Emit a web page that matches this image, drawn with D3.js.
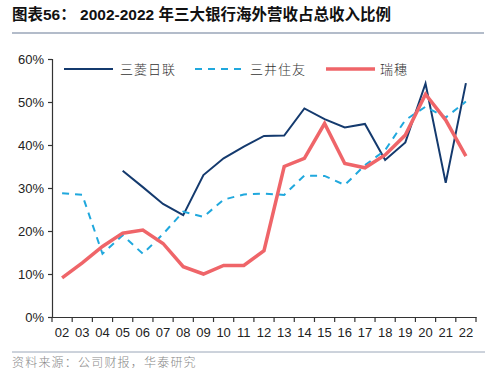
<!DOCTYPE html>
<html>
<head>
<meta charset="utf-8">
<script src="https://cdn.jsdelivr.net/npm/d3@7"></script>
<style>
  body { margin: 0; background: #fff; }
  svg { display: block; }
</style>
</head>
<body>
<svg id="chart" width="500" height="377"></svg>
<script>
// Years on the x axis
const years = ['02','03','04','05','06','07','08','09','10','11','12','13','14','15','16','17','18','19','20','21','22'];

// Overseas revenue share (%), null where no data
const mufg = [null, null, null, 34.0, 30.2, 26.3, 23.7, 33.0, 36.9, 39.6, 42.1, 42.2, 48.5, 46.0, 44.1, 44.9, 36.5, 40.6, 54.3, 31.2, 54.4];
const smbc = [28.8, 28.4, 14.7, 19.0, 14.7, 19.3, 24.5, 23.3, 27.3, 28.5, 28.7, 28.4, 32.9, 32.8, 30.7, 35.3, 38.8, 45.8, 48.9, 46.4, 50.1];
const mizuho = [9.1, 12.6, 16.4, 19.5, 20.2, 17.1, 11.7, 10.0, 12.0, 12.0, 15.4, 35.0, 36.9, 45.0, 35.7, 34.7, 37.7, 42.3, 51.8, 45.8, 37.4];

const yTicks = [0, 10, 20, 30, 40, 50, 60];

const series = [
  { name: '三菱日联', values: mufg, color: '#143a6e', width: 2, dash: null },
  { name: '三井住友', values: smbc, color: '#20a8dd', width: 2, dash: '7,6' },
  { name: '瑞穗', values: mizuho, color: '#ef6569', width: 3.5, dash: null }
];

const svg = d3.select('#chart');
const margin = { top: 59, right: 24, bottom: 60, left: 52 };
const width = +svg.attr('width');
const height = +svg.attr('height');

// Title
svg.append('text')
  .attr('x', 12)
  .attr('y', 20)
  .attr('font-family', '"Liberation Sans", "Noto Sans CJK SC", sans-serif')
  .attr('font-size', 15.5)
  .attr('font-weight', 'bold')
  .attr('fill', '#111')
  .text('图表56：  2002-2022 年三大银行海外营收占总收入比例');

svg.append('line')
  .attr('x1', 12).attr('x2', 484)
  .attr('y1', 33).attr('y2', 33)
  .attr('stroke', '#9aa6b8')
  .attr('stroke-width', 1.5);

// Scales
const x = d3.scaleBand()
  .domain(years)
  .range([margin.left, width - margin.right])
  .paddingInner(0).paddingOuter(0);

const y = d3.scaleLinear()
  .domain([0, 60])
  .range([height - margin.bottom, margin.top]);

// Y axis
const yAxis = svg.append('g')
  .attr('transform', `translate(${margin.left},0)`)
  .call(d3.axisLeft(y).tickValues(yTicks).tickSize(4).tickFormat(d => d + '%'));
yAxis.select('.domain').attr('stroke', '#333').attr('stroke-width', 1.2);
yAxis.selectAll('.tick line').attr('stroke', '#333').attr('stroke-width', 1.2);
yAxis.selectAll('.tick text')
  .attr('x', -8)
  .attr('font-family', '"Liberation Sans", Arial, sans-serif')
  .attr('font-size', 13)
  .attr('fill', '#222');

// X axis: ticks at band boundaries
const xAxis = svg.append('g')
  .attr('transform', `translate(0,${y(0)})`)
  .call(d3.axisBottom(x).tickSize(0).tickSizeOuter(0));
xAxis.select('.domain').attr('stroke', '#333').attr('stroke-width', 1.2);
xAxis.selectAll('.tick text')
  .attr('y', 11)
  .attr('dy', '0.71em')
  .attr('font-family', '"Liberation Sans", Arial, sans-serif')
  .attr('font-size', 13)
  .attr('fill', '#222');

svg.append('g')
  .selectAll('line')
  .data(years.concat(['end']))
  .join('line')
  .attr('x1', (d, i) => margin.left + i * x.bandwidth())
  .attr('x2', (d, i) => margin.left + i * x.bandwidth())
  .attr('y1', y(0))
  .attr('y2', y(0) + 5)
  .attr('stroke', '#333')
  .attr('stroke-width', 1.2);

// Lines
const line = d3.line()
  .defined(d => d.v != null)
  .x(d => x(d.year) + x.bandwidth() / 2)
  .y(d => y(d.v));

series.forEach(s => {
  svg.append('path')
    .datum(years.map((yr, i) => ({ year: yr, v: s.values[i] })))
    .attr('fill', 'none')
    .attr('stroke', s.color)
    .attr('stroke-width', s.width)
    .attr('stroke-dasharray', s.dash)
    .attr('stroke-linejoin', 'miter')
    .attr('d', line);
});

// Legend
const legendPos = [
  { x1: 64, x2: 113, tx: 120 },
  { x1: 195, x2: 246, tx: 250 },
  { x1: 326, x2: 375, tx: 380 }
];
const legendY = 69;
series.forEach((s, i) => {
  const p = legendPos[i];
  svg.append('line')
    .attr('x1', p.x1).attr('x2', p.x2)
    .attr('y1', legendY).attr('y2', legendY)
    .attr('stroke', s.color)
    .attr('stroke-width', s.width)
    .attr('stroke-dasharray', s.dash);
  svg.append('text')
    .attr('x', p.tx)
    .attr('y', legendY)
    .attr('dy', '0.35em')
    .attr('font-family', '"Noto Sans CJK SC", sans-serif')
    .attr('font-size', 13)
    .attr('font-weight', 300)
    .attr('letter-spacing', 1)
    .attr('fill', '#333')
    .text(s.name);
});

// Footer
svg.append('line')
  .attr('x1', 12).attr('x2', 485)
  .attr('y1', 352).attr('y2', 352)
  .attr('stroke', '#9aa6b8')
  .attr('stroke-width', 1);

svg.append('text')
  .attr('x', 12)
  .attr('y', 363)
  .attr('dy', '0.35em')
  .attr('font-family', '"Noto Sans CJK SC", sans-serif')
  .attr('font-size', 12)
  .attr('font-weight', 300)
  .attr('letter-spacing', 1.2)
  .attr('fill', '#888')
  .text('资料来源：公司财报，华泰研究');
</script>
</body>
</html>
